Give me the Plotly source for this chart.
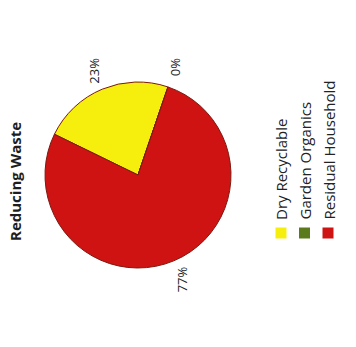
import math
import plotly.graph_objects as go

# ---- data ----
title_text = "Reducing Waste"
categories = ["Dry Recyclable", "Garden Organics", "Residual Household"]
values = [23, 0, 77]
colors = ["#f6ee0c", "#5b7a1c", "#cf1212"]

# ---- layout geometry (pixels, from top-left) ----
W, H = 356, 347
cx, cy, R = 138, 175, 93
rotation = -64  # degrees clockwise from 12 o'clock where first slice starts
label_dist = 1.22

def px(x):
    return x / W

def py(y):
    return 1 - y / H

fig = go.Figure()
fig.add_trace(go.Pie(
    labels=categories,
    values=values,
    sort=False,
    direction="clockwise",
    rotation=rotation,
    marker=dict(colors=colors, line=dict(color="#7a1a10", width=1)),
    textinfo="none",
    hoverinfo="label+percent",
    showlegend=False,
    domain=dict(x=[px(cx - R), px(cx + R)], y=[py(cy + R), py(cy - R)]),
))

annotations = []
# title (rotated)
annotations.append(dict(
    text=f"<b>{title_text}</b>", x=px(15), y=py(182), xref="paper", yref="paper",
    showarrow=False, textangle=-90, xanchor="center", yanchor="middle",
    font=dict(family="Open Sans", size=15, color="#1e1e1e"),
))

# percentage labels, positioned from the slice angles
total = sum(values)
start = rotation
for v in values:
    frac = v / total
    mid = math.radians(start + frac * 360 / 2)
    lx = cx + label_dist * R * math.sin(mid)
    ly = cy - label_dist * R * math.cos(mid)
    annotations.append(dict(
        text=f"{round(frac * 100)}%", x=px(lx), y=py(ly), xref="paper", yref="paper",
        showarrow=False, textangle=-90, xanchor="center", yanchor="middle",
        font=dict(family="Open Sans", size=13, color="#222222"),
    ))
    start += frac * 360

# rotated legend
legend_x = [281, 304.5, 328]
legend_text_bottom = 222
sq_center_y = 233
sq = 11
shapes = []
for name, col, lx in zip(categories, colors, legend_x):
    annotations.append(dict(
        text=name, x=px(lx), y=py(legend_text_bottom), xref="paper", yref="paper",
        showarrow=False, textangle=-90, xanchor="center", yanchor="bottom",
        font=dict(family="Open Sans", size=15, color="#222222"),
    ))
    shapes.append(dict(
        type="rect", xref="paper", yref="paper",
        x0=px(lx - sq / 2), x1=px(lx + sq / 2),
        y0=py(sq_center_y + sq / 2), y1=py(sq_center_y - sq / 2),
        fillcolor=col, line=dict(width=0),
    ))

fig.update_layout(
    width=W, height=H,
    margin=dict(l=0, r=0, t=0, b=0),
    paper_bgcolor="#ffffff",
    plot_bgcolor="#ffffff",
    annotations=annotations,
    shapes=shapes,
)

fig.write_html("out.html")
